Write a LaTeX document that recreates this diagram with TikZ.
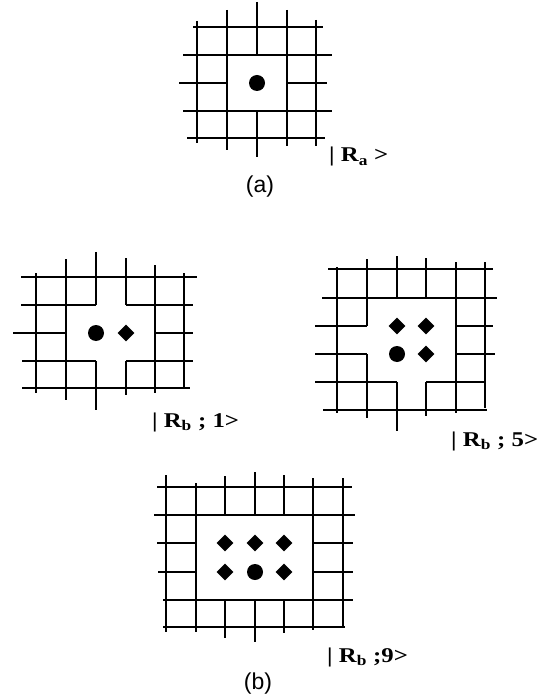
\documentclass[tikz,border=0pt]{standalone}
\usepackage{fontspec}
\usepackage{graphicx}
\usetikzlibrary{shapes.geometric}
\newfontfamily\ketfont{Liberation Serif}
\newfontfamily\capfont{Liberation Sans}
\newcommand{\ketlabel}[1]{\scalebox{1.18}[1]{\ketfont\bfseries #1}}
\tikzset{
  wall/.style={line width=2pt},
  site/.style={circle,fill,inner sep=0pt,minimum size=16pt},
  ion/.style={diamond,fill,inner sep=0pt,minimum size=17pt},
  ket/.style={anchor=base west,inner sep=0pt,font=\fontsize{21}{24}\selectfont},
  caption/.style={inner sep=0pt,font=\capfont\fontsize{23}{26}\selectfont}
}
\begin{document}
\begin{tikzpicture}[x=1pt,y=-1pt]
 \useasboundingbox (0,0) rectangle (546,700);
 % (a) one vacancy
 \draw[wall] (197,21)--(197,143) (227,10)--(227,150)
   (257,2)--(257,55) (257,111)--(257,157)
   (287,10)--(287,146) (316,20)--(316,146);
 \draw[wall] (193,27)--(323,27) (183,55)--(332,55)
   (179,83)--(227,83) (287,83)--(327,83)
   (183,111)--(332,111) (187,138)--(325,138);
 \node[site] (a-dot) at (257,83) {};
 \node[ket] (ket-a) at (329,162) {\ketlabel{| R\textsubscript{a} >}};
 \node[caption] (cap-a) at (260,187) {(a)};
 % (b) one neighbour
 \draw[wall] (36,273)--(36,393) (66,259)--(66,400)
   (96,252)--(96,305) (96,361)--(96,410)
   (126,258)--(126,305) (126,361)--(126,395)
   (155,265)--(155,393) (184,273)--(184,387);
 \draw[wall] (21,277)--(197,277)
   (21,305)--(96,305) (126,305)--(193,305)
   (13,333)--(66,333) (155,333)--(193,333)
   (22,361)--(96,361) (126,361)--(193,361)
   (22,388)--(190,388);
 \node[site] (b1-dot) at (96,333) {};
 \node[ion] (b1-ion) at (126,333) {};
 \node[ket] (ket-b1) at (152,427) {\ketlabel{| R\textsubscript{b} ; 1>}};
 % (b) five
 \draw[wall] (337,267)--(337,413)
   (367,259)--(367,326) (367,354)--(367,418)
   (397,256)--(397,298) (397,382)--(397,431)
   (426,258)--(426,298) (426,382)--(426,416)
   (456,262)--(456,413) (485,262)--(485,408);
 \draw[wall] (328,269)--(493,269) (322,298)--(497,298)
   (315,326)--(367,326) (456,326)--(493,326)
   (315,354)--(367,354) (456,354)--(495,354)
   (315,382)--(397,382) (426,382)--(485,382)
   (323,410)--(487,410);
 \node[site] (b2-dot) at (397,354) {};
 \node[ion] (b2-ion1) at (397,326) {};
 \node[ion] (b2-ion2) at (426,326) {};
 \node[ion] (b2-ion3) at (426,354) {};
 \node[ket] (ket-b2) at (451,446) {\ketlabel{| R\textsubscript{b} ; 5>}};
 % (b) nine
 \draw[wall] (166,475)--(166,632) (196,483)--(196,632)
   (225,476)--(225,515) (225,600)--(225,638)
   (255,472)--(255,515) (255,600)--(255,642)
   (284,475)--(284,515) (284,600)--(284,633)
   (313,478)--(313,630) (343,478)--(343,627);
 \draw[wall] (157,487)--(352,487) (154,515)--(355,515)
   (157,543)--(196,543) (313,543)--(353,543)
   (158,572)--(196,572) (313,572)--(353,572)
   (163,600)--(353,600) (163,627)--(345,627);
 \node[site] (b3-dot) at (255,572) {};
 \node[ion] (b3-ion1) at (225,543) {};
 \node[ion] (b3-ion2) at (255,543) {};
 \node[ion] (b3-ion3) at (284,543) {};
 \node[ion] (b3-ion4) at (225,572) {};
 \node[ion] (b3-ion5) at (284,572) {};
 \node[ket] (ket-b3) at (327,662) {\ketlabel{| R\textsubscript{b} ;9>}};
 \node[caption] (cap-b) at (258,684) {(b)};
\end{tikzpicture}
\end{document}
